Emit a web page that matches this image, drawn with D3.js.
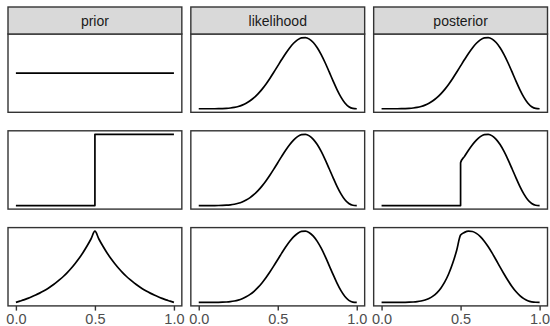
<!DOCTYPE html>
<html>
<head>
<meta charset="utf-8">
<script src="https://cdn.jsdelivr.net/npm/d3@7"></script>
<style>
body{margin:0;background:#fff}
svg{display:block}
text{font-family:"Liberation Sans",Arial,Helvetica,sans-serif}
</style>
</head>
<body>
<svg id="chart" width="550" height="326"></svg>
<script>
// facet titles and x ticks
var columns = ['prior', 'likelihood', 'posterior'];
var xTicks = [0, 0.5, 1];

// shared x grid for the smooth curves
var grid = [0, 0.025, 0.05, 0.075, 0.1, 0.125, 0.15, 0.175, 0.2, 0.225,
    0.25, 0.275, 0.3, 0.325, 0.35, 0.375, 0.4, 0.425, 0.45, 0.475,
    0.5, 0.525, 0.55, 0.575, 0.6, 0.625, 0.65, 0.675, 0.7, 0.725,
    0.75, 0.775, 0.8, 0.825, 0.85, 0.875, 0.9, 0.925, 0.95, 0.975, 1];

// row 1: flat prior
var flatPriorX = [0, 1];
var flatPriorY = [1, 1];

// row 2: step prior
var stepPriorX = [0, 0.5, 0.5, 1];
var stepPriorY = [0, 0, 1, 1];

// row 3: peaked prior
var peakPriorY = [0.135, 0.150, 0.165, 0.183, 0.202, 0.223, 0.247, 0.273, 0.301, 0.333,
    0.368, 0.407, 0.449, 0.497, 0.549, 0.607, 0.670, 0.741, 0.819, 0.905,
    1.000, 0.905, 0.819, 0.741, 0.670, 0.607, 0.549, 0.497, 0.449, 0.407,
    0.368, 0.333, 0.301, 0.273, 0.247, 0.223, 0.202, 0.183, 0.165, 0.150, 0.135];

// likelihood, same in every row
var likelihoodY = [0, 0, 0, 0, 0.0002, 0.0008, 0.0022, 0.0050, 0.0101, 0.0186,
    0.0317, 0.0507, 0.0769, 0.1114, 0.1552, 0.2088, 0.2720, 0.3445, 0.4249, 0.5111,
    0.6006, 0.6900, 0.7757, 0.8532, 0.9182, 0.9666, 0.9943, 0.9984, 0.9768, 0.9287,
    0.8552, 0.7590, 0.6449, 0.5196, 0.3914, 0.2695, 0.1634, 0.0813, 0.0283, 0.0041, 0];

// posteriors
var flatPostY = [0, 0, 0, 0, 0.0002, 0.0008, 0.0022, 0.0050, 0.0101, 0.0186,
    0.0317, 0.0507, 0.0769, 0.1114, 0.1552, 0.2088, 0.2720, 0.3445, 0.4249, 0.5111,
    0.6006, 0.6900, 0.7757, 0.8532, 0.9182, 0.9666, 0.9943, 0.9984, 0.9768, 0.9287,
    0.8552, 0.7590, 0.6449, 0.5196, 0.3914, 0.2695, 0.1634, 0.0813, 0.0283, 0.0041, 0];

var stepPostX = [0, 0.5, 0.5, 0.525, 0.55, 0.575, 0.6, 0.625, 0.65, 0.675, 0.7, 0.725,
    0.75, 0.775, 0.8, 0.825, 0.85, 0.875, 0.9, 0.925, 0.95, 0.975, 1];
var stepPostY = [0, 0, 0.6006, 0.6900, 0.7757, 0.8532, 0.9182, 0.9666, 0.9943, 0.9984, 0.9768, 0.9287,
    0.8552, 0.7590, 0.6449, 0.5196, 0.3914, 0.2695, 0.1634, 0.0813, 0.0283, 0.0041, 0];

var peakPostY = [0, 0, 0, 0, 0.0001, 0.0003, 0.0008, 0.0021, 0.0048, 0.0098,
    0.0184, 0.0325, 0.0544, 0.0871, 0.1341, 0.1994, 0.2871, 0.4019, 0.5478, 0.7282,
    0.9458, 0.9831, 1.0000, 0.9953, 0.9692, 0.9231, 0.8593, 0.7807, 0.6911, 0.5946,
    0.4954, 0.3979, 0.3059, 0.2230, 0.1520, 0.0947, 0.0520, 0.0234, 0.0074, 0.0010, 0];

var svg = d3.select('#chart');

var left = 8, right = 547.5, colGap = 9;
var stripTop = 7, stripH = 27, panelH = 78.3, rowGap = 18.5;
var panelW = (right - left - 2*colGap)/3;
var borderColor = '#333333';

var Panel = function(row, col, xs, ys){
    this.row = row;
    this.col = col;
    this.xs = xs;
    this.ys = ys;
    this.init();
}
Panel.prototype.init = function(){
    this.x0 = left + this.col*(panelW + colGap);
    this.y0 = stripTop + stripH + this.row*(panelH + rowGap);
    this.x = d3.scaleLinear().domain([-0.05, 1.05]).range([this.x0, this.x0 + panelW]);
    var ext = d3.extent(this.ys);
    if (ext[0] == ext[1]){
        ext = [ext[0] - 0.5, ext[1] + 0.5];
    }
    var pad = (ext[1] - ext[0])*0.05;
    this.y = d3.scaleLinear().domain([ext[0] - pad, ext[1] + pad]).range([this.y0 + panelH, this.y0]);
}
Panel.prototype.display = function(){
    var that = this;
    var g = svg.append('g').attr('class', 'panel');
    var pts = this.xs.map(function(d, i){ return [d, that.ys[i]]; });
    var line = d3.line()
        .x(function(d){ return that.x(d[0]); })
        .y(function(d){ return that.y(d[1]); })
        .curve(d3.curveMonotoneX);
    g.append('path').attr('d', line(pts))
        .attr('fill', 'none').attr('stroke', '#000').attr('stroke-width', 1.7)
        .attr('stroke-linejoin', 'round');
    g.append('rect').attr('x', this.x0).attr('y', this.y0)
        .attr('width', panelW).attr('height', panelH)
        .attr('fill', 'none').attr('stroke', borderColor).attr('stroke-width', 1.4);
    if (this.row == 2){
        var ax = g.append('g').attr('transform', 'translate(0,' + (this.y0 + panelH) + ')')
            .call(d3.axisBottom(this.x).tickValues(xTicks).tickFormat(d3.format('.1f'))
                .tickSize(4.7).tickPadding(3));
        ax.select('.domain').remove();
        ax.selectAll('line').attr('stroke', borderColor).attr('stroke-width', 1.4);
        ax.selectAll('text').attr('fill', '#4D4D4D').style('font-size', '14.5px')
            .style('font-family', '"Liberation Sans",Arial,sans-serif');
    }
}

var strip = function(col){
    var x0 = left + col*(panelW + colGap);
    var g = svg.append('g').attr('class', 'strip');
    g.append('rect').attr('x', x0).attr('y', stripTop).attr('width', panelW).attr('height', stripH)
        .attr('fill', '#D9D9D9').attr('stroke', borderColor).attr('stroke-width', 1.4);
    g.append('text').text(columns[col]).attr('x', x0 + panelW/2).attr('y', stripTop + stripH/2)
        .attr('dy', '0.36em').attr('text-anchor', 'middle')
        .attr('fill', '#1A1A1A').style('font-size', '14px');
}

var panels = [
    new Panel(0, 0, flatPriorX, flatPriorY),
    new Panel(0, 1, grid, likelihoodY),
    new Panel(0, 2, grid, flatPostY),
    new Panel(1, 0, stepPriorX, stepPriorY),
    new Panel(1, 1, grid, likelihoodY),
    new Panel(1, 2, stepPostX, stepPostY),
    new Panel(2, 0, grid, peakPriorY),
    new Panel(2, 1, grid, likelihoodY),
    new Panel(2, 2, grid, peakPostY)
];
for (var i=0; i<panels.length; i++){
    panels[i].display();
}
for (var i=0; i<columns.length; i++){
    strip(i);
}
</script>
</body>
</html>
